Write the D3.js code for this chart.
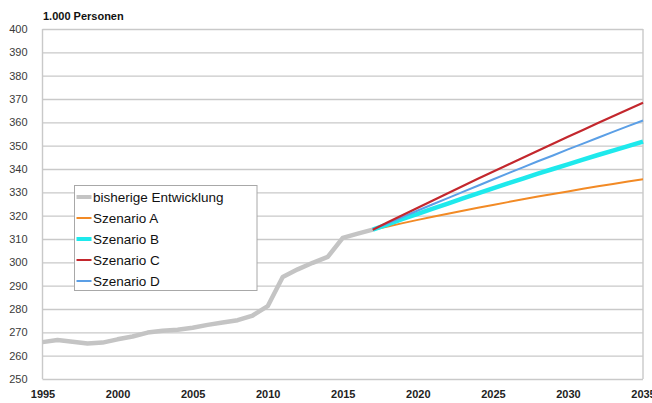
<!DOCTYPE html>
<html>
<head>
<meta charset="utf-8">
<script src="https://cdn.jsdelivr.net/npm/d3@7"></script>
<style>
  html, body { margin: 0; padding: 0; background: #fff; }
  svg { display: block; font-family: "Liberation Sans", Arial, Helvetica, sans-serif; }
</style>
</head>
<body>
<svg id="chart" width="652" height="403"></svg>
<script>
// Bevölkerung in 1.000 Personen
const histYears = [1995, 1996, 1997, 1998, 1999, 2000, 2001, 2002, 2003, 2004, 2005, 2006,
                   2007, 2008, 2009, 2010, 2011, 2012, 2013, 2014, 2015, 2016, 2017];
const histValues = [265.8, 266.7, 266.0, 265.2, 265.6, 267.0, 268.2, 269.9, 270.7, 271.1, 272.0, 273.2,
                    274.2, 275.2, 277.2, 281.2, 293.7, 297.0, 299.8, 302.3, 310.5, 312.3, 314.0];

const scenYears = [2017, 2018, 2019, 2020, 2021, 2022, 2023, 2024, 2025, 2026,
                   2027, 2028, 2029, 2030, 2031, 2032, 2033, 2034, 2035];
const scenA = [314.0, 315.4, 316.8, 318.2, 319.5, 320.8, 322.1, 323.4, 324.6, 325.8,
               327.0, 328.2, 329.3, 330.4, 331.5, 332.6, 333.6, 334.6, 335.6];
const scenB = [314.0, 316.3, 318.6, 320.8, 323.0, 325.2, 327.4, 329.6, 331.7, 333.8,
               335.9, 338.0, 340.0, 342.0, 344.0, 346.0, 347.9, 349.8, 351.7];
const scenC = [314.0, 317.2, 320.3, 323.4, 326.5, 329.6, 332.7, 335.8, 338.8, 341.8,
               344.8, 347.8, 350.8, 353.8, 356.7, 359.7, 362.6, 365.5, 368.4];
const scenD = [314.0, 316.7, 319.5, 322.2, 324.9, 327.5, 330.2, 332.8, 335.5, 338.1,
               340.7, 343.3, 345.8, 348.4, 350.9, 353.4, 355.9, 358.4, 360.8];

const yTicks = [250, 260, 270, 280, 290, 300, 310, 320, 330, 340, 350, 360, 370, 380, 390, 400];
const xTicks = [1995, 2000, 2005, 2010, 2015, 2020, 2025, 2030, 2035];

const legendNames = ["bisherige Entwicklung", "Szenario A", "Szenario B", "Szenario C", "Szenario D"];

(function () {
  const svg = d3.select("#chart");
  const plotLeft = 42.5, plotRight = 643, plotTop = 29, plotBottom = 379;

  const x = d3.scaleLinear().domain([1995, 2035]).range([plotLeft, plotRight]);
  const y = d3.scaleLinear().domain([250, 400]).range([plotBottom, plotTop]);

  const gridColor = "#c9c9c9";

  // horizontal gridlines
  svg.append("g")
    .attr("transform", `translate(${plotLeft},0)`)
    .call(d3.axisLeft(y).tickValues(yTicks).tickSize(-(plotRight - plotLeft)).tickFormat(""))
    .call(g => g.select(".domain").remove())
    .call(g => g.selectAll("line").attr("stroke", gridColor).attr("stroke-width", 1.4));

  // frame: left axis and right border
  svg.append("line").attr("x1", plotLeft).attr("x2", plotLeft).attr("y1", plotTop).attr("y2", plotBottom)
    .attr("stroke", gridColor).attr("stroke-width", 1.4);
  svg.append("line").attr("x1", plotRight).attr("x2", plotRight).attr("y1", plotTop).attr("y2", plotBottom)
    .attr("stroke", gridColor).attr("stroke-width", 1.4);

  // y tick labels
  svg.append("g")
    .attr("transform", `translate(${plotLeft},0)`)
    .call(d3.axisLeft(y).tickValues(yTicks).tickSize(0).tickPadding(15).tickFormat(d3.format("d")))
    .call(g => g.select(".domain").remove())
    .call(g => g.selectAll("text")
      .attr("fill", "#3a3a3a")
      .style("font-size", "11px")
      .style("font-family", "'Liberation Sans', Arial, sans-serif"));

  // x tick labels
  svg.append("g")
    .attr("transform", `translate(0,${plotBottom})`)
    .call(d3.axisBottom(x).tickValues(xTicks).tickSize(0).tickPadding(11).tickFormat(d3.format("d")))
    .call(g => g.select(".domain").remove())
    .call(g => g.selectAll("text")
      .attr("fill", "#222")
      .style("font-size", "11px")
      .style("font-weight", "bold")
      .style("font-family", "'Liberation Sans', Arial, sans-serif"));

  // unit label
  svg.append("text")
    .attr("x", 43).attr("y", 20)
    .attr("fill", "#111")
    .style("font-size", "11px")
    .style("font-weight", "bold")
    .text("1.000 Personen");

  const line = d3.line().x(d => x(d[0])).y(d => y(d[1])).curve(d3.curveLinear);

  const series = [
    { years: histYears, values: histValues, color: "#c4c4c4", width: 4.5 },
    { years: scenYears, values: scenA, color: "#f28a25", width: 2 },
    { years: scenYears, values: scenB, color: "#1ee9ec", width: 4.5 },
    { years: scenYears, values: scenD, color: "#5b9fe6", width: 2 },
    { years: scenYears, values: scenC, color: "#c3272d", width: 2.2 }
  ];
  // draw order: history, A, B, D, C
  series.forEach(s => {
    svg.append("path")
      .datum(s.years.map((yr, i) => [yr, s.values[i]]))
      .attr("fill", "none")
      .attr("stroke", s.color)
      .attr("stroke-width", s.width)
      .attr("stroke-linejoin", "round")
      .attr("d", line);
  });

  // legend
  const legendItems = [
    { name: legendNames[0], color: "#c4c4c4", width: 4 },
    { name: legendNames[1], color: "#f28a25", width: 2 },
    { name: legendNames[2], color: "#1ee9ec", width: 4 },
    { name: legendNames[3], color: "#c3272d", width: 2 },
    { name: legendNames[4], color: "#5b9fe6", width: 2 }
  ];
  const lg = svg.append("g").attr("transform", "translate(74.5,185.5)");
  lg.append("rect").attr("width", 182.5).attr("height", 105)
    .attr("fill", "#fff").attr("stroke", "#a8a8a8").attr("stroke-width", 1);
  legendItems.forEach((it, i) => {
    const cy = 11.5 + i * 21;
    lg.append("line").attr("x1", 2).attr("x2", 17).attr("y1", cy).attr("y2", cy)
      .attr("stroke", it.color).attr("stroke-width", it.width);
    lg.append("text").attr("x", 18.5).attr("y", cy + 4.8)
      .attr("fill", "#111")
      .style("font-size", "13.5px")
      .text(it.name);
  });
})();
</script>
</body>
</html>
